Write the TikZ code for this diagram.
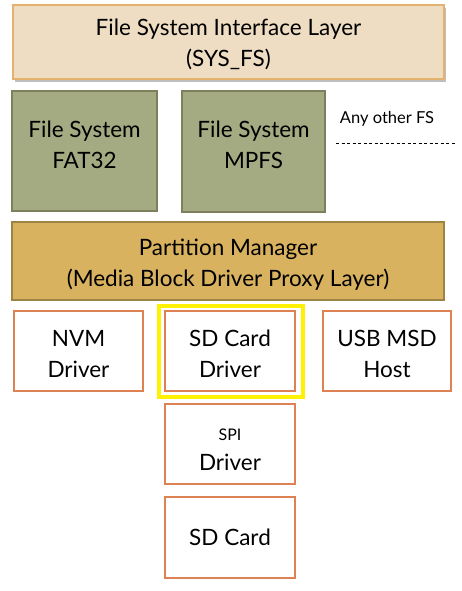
\documentclass[tikz,border=0pt]{standalone}
\usepackage{fontspec}
\setmainfont{Lato}
\begin{document}
\begin{tikzpicture}[x=1pt,y=-1pt,
  lbl/.style={font=\fontsize{22.5}{31}\selectfont, align=center, text=black},
  iface/.style={draw=topborder, fill=topfill, line width=1.2pt},
  fsbox/.style={draw=fsborder, fill=fsfill, line width=1.5pt},
  pmbox/.style={draw=pmborder, fill=pmfill, line width=1.5pt},
  drvbox/.style={draw=drvborder, fill=white, line width=1.5pt},
  hilite/.style={draw=hiyellow, line width=4pt}]
\definecolor{topfill}{HTML}{EEDDC3}
\definecolor{topborder}{HTML}{E2B26E}
\definecolor{fsfill}{HTML}{A4AA81}
\definecolor{fsborder}{HTML}{7D7F5D}
\definecolor{pmfill}{HTML}{D8B25E}
\definecolor{pmborder}{HTML}{9C8444}
\definecolor{drvborder}{HTML}{DF8253}
\definecolor{hiyellow}{HTML}{FFF200}
\useasboundingbox (0,0) rectangle (462,591);
% shadow of top box
\fill[black!25] (15,8) rectangle (446,82);
\draw[iface] (13,5) rectangle (444,79);
\node[lbl] (iface) at (228.5,44) {File System Interface Layer\\(SYS\_FS)};
\draw[fsbox] (12,91) rectangle (157,211);
\node[lbl] (fat) at (84.5,145) {File System\\FAT32};
\draw[fsbox] (182,91) rectangle (325,212);
\node[lbl] (mpfs) at (253.5,145) {File System\\MPFS};
\node[font=\fontsize{16.5}{18}\selectfont] (other) at (387,119) {Any other FS};
\coordinate (d1) at (336,143);
\coordinate (d2) at (456,143);
\draw[dashed, dash pattern=on 3pt off 2.5pt, line width=0.6pt] (d1) -- (d2);
\draw[pmbox] (12,222) rectangle (444,300);
\node[lbl] (pm) at (228,264.5) {Partition Manager\\(Media Block Driver Proxy Layer)};
\draw[drvbox] (14,311) rectangle (143,391);
\node[lbl] (nvm) at (78.5,354) {NVM\\Driver};
\draw[hilite] (159,306) rectangle (303,397);
\draw[drvbox] (165,311) rectangle (295,391);
\node[lbl] (sdd) at (230,354) {SD Card\\Driver};
\draw[drvbox] (323,311) rectangle (451,391);
\node[lbl] (usb) at (387,354) {USB MSD\\Host};
\draw[drvbox] (165,404) rectangle (295,484);
\node[font=\fontsize{16}{18}\selectfont] (spi) at (230,435) {SPI};
\node[lbl] (spid) at (230,462) {Driver};
\draw[drvbox] (165,497) rectangle (295,578);
\node[lbl] (sdc) at (230,537) {SD Card};
\end{tikzpicture}
\end{document}
